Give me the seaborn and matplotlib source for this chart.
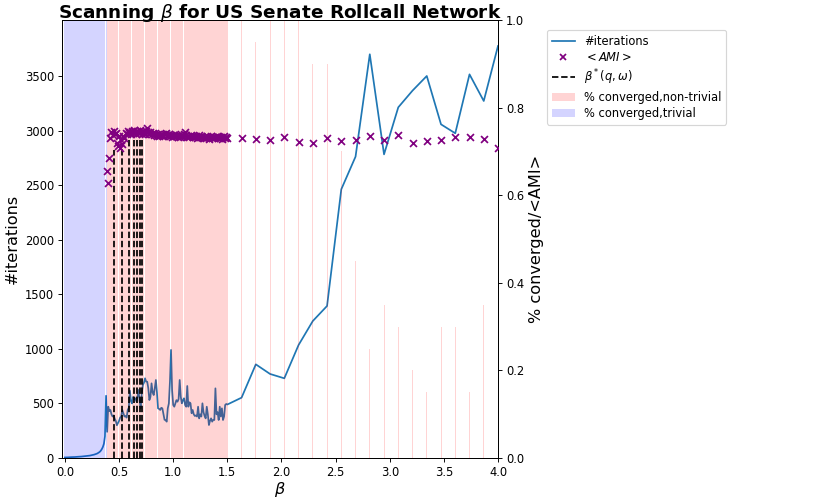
import numpy as np
import matplotlib
matplotlib.use("Agg")
import matplotlib.pyplot as plt
import seaborn as sns
from matplotlib.lines import Line2D
from matplotlib.patches import Patch

# ---- data -----------------------------------------------------------------
beta_dense = np.round(np.arange(0.0, 1.495, 0.01), 2)        # 0.00 .. 1.49
beta_sparse = np.linspace(1.5, 4.0, 20)

iters_dense = [
    5, 5, 6, 6, 7, 7, 8, 8, 9, 9,
    10, 10, 11, 12, 12, 13, 14, 15, 16, 17,
    18, 19, 20, 22, 24, 26, 28, 31, 34, 38,
    42, 48, 55, 65, 80, 100, 130, 200, 570,
    240, 470, 430, 440, 400, 380, 390, 360, 340, 300,
    320, 340, 370, 380, 440, 410, 380, 385, 370, 440,
    460, 617, 520, 500, 560, 540, 547, 520, 560, 623,
    520, 455, 600, 669, 690, 730, 700, 699, 640, 531,
    560, 684, 600, 577, 640, 715, 600, 455, 450, 440,
    460, 455, 400, 350, 348, 333, 455, 500, 700, 990,
    620, 486, 470, 500, 530, 516, 540, 715, 560, 501,
    530, 547, 486, 470, 660, 470, 510, 501, 410, 440,
    400, 385, 390, 380, 470, 363, 400, 380, 501, 420,
    385, 363, 470, 400, 302, 340, 363, 333, 350, 348,
    638, 400, 420, 348, 470, 380, 455, 348, 380, 486, 495,
]
iters_sparse = [490, 553, 858, 770, 730, 1035, 1255, 1393, 2462, 2761,
                3699, 2782, 3213, 3366, 3500, 3057, 2975, 3515, 3271, 3775]

# <AMI> for non-trivial betas 0.39 .. 1.49
ami_dense = [
    0.655, 0.627, 0.684, 0.730, 0.745, 0.738, 0.746, 0.740, 0.743, 0.720,
    0.712, 0.735, 0.708, 0.725, 0.718, 0.736, 0.730, 0.742, 0.739, 0.746,
    0.742, 0.744, 0.739, 0.746, 0.742, 0.749, 0.744, 0.739, 0.746, 0.742,
    0.749, 0.744, 0.739, 0.746, 0.742, 0.739, 0.746, 0.754, 0.744, 0.739,
    0.745, 0.739, 0.743, 0.737, 0.741, 0.738, 0.735, 0.740, 0.736, 0.738,
    0.737, 0.740, 0.736, 0.739, 0.742, 0.737, 0.735, 0.739, 0.736, 0.738,
    0.734, 0.737, 0.735, 0.739, 0.736, 0.733, 0.737, 0.734, 0.736, 0.738,
    0.735, 0.740, 0.745, 0.737, 0.733, 0.736, 0.734, 0.738, 0.735, 0.732,
    0.736, 0.733, 0.735, 0.731, 0.734, 0.737, 0.732, 0.735, 0.733, 0.730,
    0.734, 0.731, 0.736, 0.732, 0.729, 0.733, 0.735, 0.731, 0.734, 0.730,
    0.733, 0.736, 0.731, 0.734, 0.730, 0.733, 0.729, 0.732, 0.735, 0.731,
    0.733,
]
ami_sparse = [0.730, 0.730, 0.729, 0.727, 0.732, 0.721, 0.720, 0.730, 0.723, 0.727,
              0.736, 0.725, 0.737, 0.719, 0.724, 0.727, 0.734, 0.733, 0.728, 0.708]

# % converged
n_trivial = 39                                   # betas 0.00 .. 0.38
conv_trivial = [1.0] * n_trivial
conv_nontrivial_dense = [1.0] * (len(beta_dense) - n_trivial)
conv_nontrivial_sparse = [1.0, 1.0, 0.95, 1.0, 1.0, 1.0, 0.9, 0.9, 0.7, 0.45,
                          0.25, 0.35, 0.30, 0.20, 0.15, 0.30, 0.30, 0.15, 0.35, 0.0]

# beta*(q, omega)
beta_star = [0.45, 0.53, 0.59, 0.64, 0.67, 0.69, 0.71]
beta_star_top = [0.703, 0.715, 0.728, 0.728, 0.728, 0.728, 0.728]

# ---- assemble -------------------------------------------------------------
beta_all = np.concatenate([beta_dense, beta_sparse])
iters_all = np.array(iters_dense + iters_sparse, dtype=float)
beta_ami = np.concatenate([beta_dense[n_trivial:], beta_sparse])
ami_all = np.array(ami_dense + ami_sparse)
beta_nt = np.concatenate([beta_dense[n_trivial:], beta_sparse])
conv_nt = np.array(conv_nontrivial_dense + conv_nontrivial_sparse)

# ---- plot -----------------------------------------------------------------
W, H = 830, 498
fig = plt.figure(figsize=(10, 6), dpi=83)
ax1 = fig.add_axes([62 / W, 1 - 458 / H, (498 - 62) / W, (458 - 20) / H])
ax2 = ax1.twinx()

sns.lineplot(x=beta_all, y=iters_all, ax=ax1, color="#1f77b4", linewidth=1.5,
             legend=False)

ax2.bar(beta_dense[:n_trivial], conv_trivial, width=0.0095, color="blue",
        alpha=0.17, linewidth=0)
ax2.bar(beta_nt, conv_nt, width=0.0095, color="red", alpha=0.17, linewidth=0)
ax2.vlines(beta_star, 0, beta_star_top, colors="k", linestyles="--", linewidth=1.5)
sns.scatterplot(x=beta_ami, y=ami_all, ax=ax2, marker="x", color="purple", s=36,
                linewidth=1.5, legend=False, zorder=5)

ax1.set_xlim(-0.027, 4.0)
ax1.set_ylim(0, 4013)
ax2.set_ylim(0, 1.0)
ax1.set_xticks(np.arange(0, 4.01, 0.5))
ax1.set_yticks(np.arange(0, 3501, 500))
ax2.set_yticks(np.arange(0, 1.01, 0.2))

ax1.set_xlabel(r"$\beta$", fontsize=14, labelpad=1)
ax1.set_ylabel("#iterations", fontsize=14)
ax2.set_ylabel("% converged/<AMI>", fontsize=14)
ax2.set_title(r"Scanning $\beta$ for US Senate Rollcall Network",
              fontsize=16, fontweight="bold", y=1.0, pad=1.5)

handles = [
    Line2D([], [], color="#1f77b4", linewidth=1.5),
    Line2D([], [], color="purple", marker="x", linestyle="", markersize=6,
           markeredgewidth=1.5),
    Line2D([], [], color="k", linestyle="--", linewidth=1.5),
    Patch(facecolor="red", alpha=0.17),
    Patch(facecolor="blue", alpha=0.17),
]
labels = ["#iterations", r"$<AMI>$", r"$\beta^*(q,\omega)$",
          "% converged,non-trivial", "% converged,trivial"]
fig.legend(handles, labels, loc="upper left",
           bbox_to_anchor=(547 / W, 1 - 30 / H), borderaxespad=0, fontsize=10,
           labelspacing=0.3)

fig.savefig("out.png", dpi=83)
